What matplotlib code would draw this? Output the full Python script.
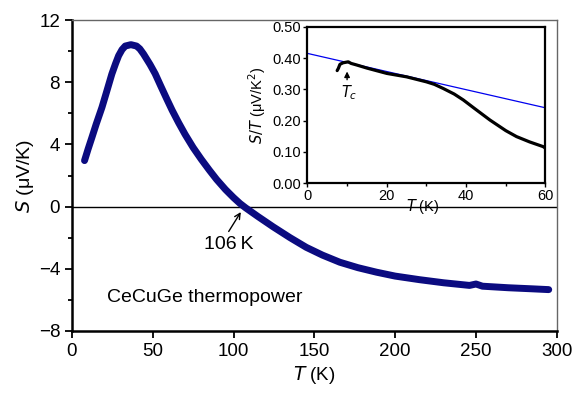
import matplotlib
matplotlib.use("Agg")
import matplotlib.pyplot as plt
from matplotlib.ticker import MultipleLocator, FormatStrFormatter

plt.rcParams["font.family"] = ["Liberation Sans", "DejaVu Sans"]
plt.rcParams["axes.unicode_minus"] = True

# main curve: thermopower S (uV/K) vs T (K)
T_main = [7.8, 10, 12.4, 15, 18.6, 21.5, 24.7, 27, 28.9, 31, 33, 36.5, 40, 42,
          44.3, 48.3, 51.5, 55, 58.8, 62, 66, 70, 75, 80, 85, 89.5, 95, 100,
          104, 107.5, 115, 124.5, 135, 145, 155, 165.8, 177, 188.5, 200, 215,
          230, 246, 250, 254, 270, 285, 295]
S_main = [2.96, 3.7, 4.46, 5.3, 6.39, 7.4, 8.53, 9.2, 9.71, 10.1, 10.33, 10.42,
          10.33, 10.15, 9.82, 9.15, 8.55, 7.75, 6.9, 6.2, 5.4, 4.65, 3.8, 3.05,
          2.35, 1.75, 1.1, 0.58, 0.2, -0.08, -0.63, -1.3, -2.0, -2.62, -3.12,
          -3.58, -3.93, -4.22, -4.47, -4.7, -4.9, -5.07, -4.98, -5.12, -5.22,
          -5.29, -5.34]

# inset: S/T (uV/K^2) vs T (K)
T_in = [7.5, 7.8, 8.2, 9.0, 10.3, 11.0, 12.4, 15, 20, 25, 30, 32, 34.2, 37,
        39.3, 42, 46, 50, 52.7, 56, 59.4, 60]
ST_in = [0.36, 0.367, 0.38, 0.385, 0.388, 0.383, 0.378, 0.368, 0.351, 0.340,
         0.324, 0.316, 0.303, 0.285, 0.266, 0.240, 0.202, 0.168, 0.149, 0.132,
         0.117, 0.112]
# linear fit line in inset
fit_T = [0, 60]
fit_ST = [0.415, 0.241]

navy = "#0b0b80"

fig = plt.figure(figsize=(5.8, 3.94), dpi=100)
ax = fig.add_axes([0.124, 0.160, 0.836, 0.789])

ax.plot(T_main, S_main, color=navy, lw=5, solid_capstyle="round",
        solid_joinstyle="round")
ax.axhline(0, color="black", lw=1.0, zorder=1)

ax.set_xlim(0, 300)
ax.set_ylim(-8, 12)
ax.xaxis.set_major_locator(MultipleLocator(50))
ax.yaxis.set_major_locator(MultipleLocator(4))
ax.yaxis.set_minor_locator(MultipleLocator(2))
ax.tick_params(which="both", direction="out", labelsize=13.5, width=1.3,
               top=False, right=False)
ax.tick_params(which="major", length=5)
ax.tick_params(which="minor", length=3)
for s in ["left", "bottom"]:
    ax.spines[s].set_linewidth(1.8)
for s in ["top", "right"]:
    ax.spines[s].set_linewidth(1.0)
    ax.spines[s].set_color("#666666")

ax.set_xlabel("$\\it{T}$ (K)", fontsize=13.5, labelpad=3)
ax.set_ylabel("$\\it{S}$ (μV/K)", fontsize=14, labelpad=2)

ax.annotate("", xy=(104.5, -0.35), xytext=(97, -1.6),
            arrowprops=dict(arrowstyle="->", color="black", lw=1.0,
                            shrinkA=0, shrinkB=0))
ax.text(97, -2.45, "106\u2009K", fontsize=14, ha="center", va="center")
ax.text(21.5, -5.85, "CeCuGe thermopower", fontsize=14, va="center")

# inset
ins = fig.add_axes([0.530, 0.535, 0.4105, 0.397])
ins.plot(fit_T, fit_ST, color="#0000ee", lw=0.9)
ins.plot(T_in, ST_in, color="black", lw=2.3, solid_capstyle="round")
ins.set_xlim(0, 60)
ins.set_ylim(0, 0.5)
ins.xaxis.set_major_locator(MultipleLocator(20))
ins.xaxis.set_minor_locator(MultipleLocator(10))
ins.yaxis.set_major_locator(MultipleLocator(0.1))
ins.yaxis.set_major_formatter(FormatStrFormatter("%.2f"))
ins.tick_params(which="both", direction="out", labelsize=10.5, width=1.0,
                pad=1.5)
ins.tick_params(which="major", length=3)
ins.tick_params(which="minor", length=2)
for s in ins.spines.values():
    s.set_linewidth(1.6)
ins.set_ylabel("$\\it{S/T}$ (μV/K$^2$)", fontsize=10.5, labelpad=3)
ins.text(29, -0.045, "$\\it{T}$ (K)", fontsize=10.5, ha="center", va="top")

ins.annotate("", xy=(10, 0.366), xytext=(10, 0.322),
             arrowprops=dict(arrowstyle="-|>", color="black", lw=1.0,
                             mutation_scale=8))
ins.text(10.6, 0.29, "$\\it{T_c}$", fontsize=10.5, ha="center", va="center")

fig.savefig("out.png", dpi=100)
